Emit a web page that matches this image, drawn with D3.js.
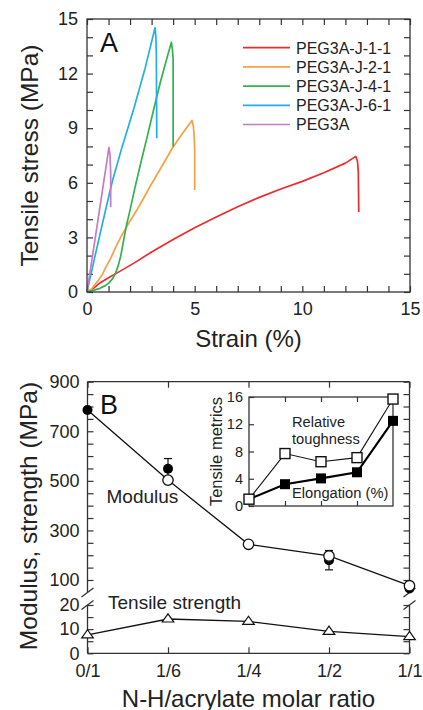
<!DOCTYPE html>
<html><head><meta charset="utf-8">
<script src="https://cdn.jsdelivr.net/npm/d3@7"></script>
<style>
body{margin:0;background:#fff;}
svg{display:block;font-family:"Liberation Sans",Arial,Helvetica,sans-serif;}
</style></head><body>
<svg id="chart" width="423" height="710"></svg>
<script>
// ---------- Panel A: stress–strain curves ([strain %, stress MPa]) ----------
const curveNames = ["PEG3A-J-1-1", "PEG3A-J-2-1", "PEG3A-J-4-1", "PEG3A-J-6-1", "PEG3A"];
const curveColors = ["#ee2b2e", "#f7a044", "#33b24e", "#22aee6", "#c57cc4"];
const curveJ11 = [[0,0],[0.3,0.2],[0.6,0.5],[1.0,0.78],[1.5,1.12],[2.2,1.6],[3,2.2],[4,2.88],[5,3.53],[6,4.12],[7,4.68],[8,5.2],[9,5.66],[10,6.08],[11,6.55],[12,7.08],[12.48,7.45],[12.56,7.2],[12.6,6.6],[12.62,4.4]];
const curveJ21 = [[0,0],[0.1,0.08],[0.2,0.15],[0.3,0.3],[0.48,0.57],[0.71,0.95],[0.87,1.35],[1.1,1.85],[1.33,2.45],[1.56,3.0],[1.87,3.65],[2.34,4.55],[2.7,5.3],[3.0,5.95],[3.5,6.95],[3.96,7.9],[4.4,8.65],[4.88,9.43],[4.94,9.1],[4.98,8.5],[5.0,7.8],[5.0,5.6]];
const curveJ41 = [[0,0],[0.15,0.05],[0.33,0.1],[0.6,0.2],[0.85,0.35],[1.02,0.5],[1.2,0.75],[1.33,1.05],[1.45,1.45],[1.56,1.95],[1.65,2.5],[1.74,3.1],[1.85,3.75],[1.97,4.35],[2.1,5.05],[2.26,5.9],[2.5,7.1],[2.8,8.55],[3.11,10.1],[3.4,11.5],[3.7,12.8],[3.92,13.72],[3.97,13.3],[4.0,12.8],[4.0,7.98]];
const curveJ61 = [[0,0],[0.3,1.6],[0.6,3.15],[0.9,4.7],[1.18,6.1],[1.6,7.85],[2.18,10.1],[2.7,12.3],[3.16,14.52],[3.2,14.0],[3.22,13.0],[3.24,8.45]];
const curvePEG3A = [[0,0],[0.4,3.1],[0.79,6.15],[1.02,7.95],[1.07,7.5],[1.1,6.5],[1.1,4.65]];
const curves = [curveJ11, curveJ21, curveJ41, curveJ61, curvePEG3A];
const strainTicks = [0, 5, 10, 15];
const stressTicks = [0, 3, 6, 9, 12, 15];

// ---------- Panel B: properties vs. N-H/acrylate ratio ----------
const ratioLabels = ["0/1", "1/6", "1/4", "1/2", "1/1"];
const modulusLine = [786, 503, 244, 197, 77];      // connecting line (MPa)
const modulusOpen = [null, 503, 244, 197, 77];     // open circles
const modulusFilled = [786, 549, null, 180, 66];   // filled circles
const modulusErr = [0, 41, null, 39, 0];
const tensileStrength = [7.6, 14.2, 13.2, 9.1, 6.9];
const modulusTicks = [100, 300, 500, 700, 900];
const strengthTicks = [0, 10, 20];
// inset
const relToughness = [1.0, 7.7, 6.5, 7.1, 15.7];
const elongation = [1.0, 3.2, 4.05, 4.95, 12.5];
const insetTicks = [0, 4, 8, 12, 16];

const svg = d3.select("#chart");
const FONT_TICK = 18;
const ink = "#222";
const frame = "#333";

function styleAxis(g, fontSize) {
  g.select(".domain").remove();
  g.attr("font-family", null).attr("font-size", fontSize);
  g.selectAll(".tick line").attr("stroke", frame).attr("stroke-width", 1.2);
  g.selectAll(".tick text").attr("fill", ink).attr("font-size", fontSize);
}

// ================= Panel A =================
const xA = d3.scaleLinear([0, 15], [87, 410]);
const yA = d3.scaleLinear([0, 15], [292, 19]);
const gA = svg.append("g");

gA.append("g").attr("transform", "translate(0,292)")
  .call(d3.axisBottom(xA).tickValues(d3.range(0, 16)).tickSizeInner(-6).tickSizeOuter(0).tickPadding(10)
    .tickFormat(d => strainTicks.includes(d) ? d : ""))
  .call(g => styleAxis(g, FONT_TICK));
gA.append("g").attr("transform", "translate(0,19)")
  .call(d3.axisTop(xA).tickValues(d3.range(0, 16)).tickSizeInner(-6).tickSizeOuter(0).tickFormat(""))
  .call(g => styleAxis(g, FONT_TICK));
gA.append("g").attr("transform", "translate(87,0)")
  .call(d3.axisLeft(yA).tickValues(d3.range(0, 16)).tickSizeInner(-6).tickSizeOuter(0).tickPadding(9)
    .tickFormat(d => stressTicks.includes(d) ? d : ""))
  .call(g => styleAxis(g, FONT_TICK));
gA.append("g").attr("transform", "translate(410,0)")
  .call(d3.axisRight(yA).tickValues(d3.range(0, 16)).tickSizeInner(-6).tickSizeOuter(0).tickFormat(""))
  .call(g => styleAxis(g, FONT_TICK));

const lineA = d3.line().x(d => xA(d[0])).y(d => yA(d[1]));
gA.selectAll("path.curve").data(curves).join("path")
  .attr("class", "curve").attr("d", lineA).attr("fill", "none")
  .attr("stroke", (d, i) => curveColors[i]).attr("stroke-width", 1.7)
  .attr("stroke-linejoin", "round");

gA.append("rect").attr("x", 87).attr("y", 19).attr("width", 323).attr("height", 273)
  .attr("fill", "none").attr("stroke", frame).attr("stroke-width", 1.3);

// legend
const legA = gA.append("g").attr("transform", "translate(243,47.7)");
curveNames.forEach((name, i) => {
  const row = legA.append("g").attr("transform", `translate(0,${i * 19.2})`);
  row.append("line").attr("x1", 0).attr("x2", 47).attr("stroke", curveColors[i]).attr("stroke-width", 1.7);
  row.append("text").attr("x", 53).attr("y", 5.8).attr("font-size", 16).attr("fill", ink).text(name);
});

gA.append("text").attr("x", 100).attr("y", 51.5).attr("font-size", 27).attr("fill", "#111").text("A");
gA.append("text").attr("x", 248.5).attr("y", 346.5).attr("text-anchor", "middle")
  .attr("font-size", 24).attr("fill", ink).text("Strain (%)");
gA.append("text").attr("transform", "translate(37.5,155.5) rotate(-90)").attr("text-anchor", "middle")
  .attr("font-size", 24.5).attr("fill", ink).text("Tensile stress (MPa)");

// ================= Panel B =================
const xB = d3.scalePoint(ratioLabels, [87.5, 409.5]);
const yTop = d3.scaleLinear([100, 900], [580, 381.7]);
const yLow = d3.scaleLinear([0, 20], [653.3, 605]);
const topEnd = 592.5;    // lower end of the modulus segment (px)
const lowStart = 605;    // upper end of the strength segment (px)
const gB = svg.append("g");

// frame (broken left/right axes)
const frameB = gB.append("g").attr("stroke", frame).attr("stroke-width", 1.3).attr("fill", "none");
frameB.append("line").attr("x1", 87.5).attr("x2", 409.5).attr("y1", 381.7).attr("y2", 381.7);
frameB.append("line").attr("x1", 87.5).attr("x2", 409.5).attr("y1", 653.3).attr("y2", 653.3);
[87.5, 409.5].forEach(x => {
  frameB.append("line").attr("x1", x).attr("x2", x).attr("y1", 381.7).attr("y2", topEnd);
  frameB.append("line").attr("x1", x).attr("x2", x).attr("y1", lowStart).attr("y2", 653.3);
  [topEnd, lowStart].forEach(y => {
    frameB.append("line").attr("x1", x - 6).attr("y1", y + 4.5).attr("x2", x + 6).attr("y2", y - 4.5);
  });
});

gB.append("g").attr("transform", "translate(0,653.3)")
  .call(d3.axisBottom(xB).tickSizeInner(-6).tickSizeOuter(0).tickPadding(11))
  .call(g => styleAxis(g, FONT_TICK));
gB.append("g").attr("transform", "translate(0,381.7)")
  .call(d3.axisTop(xB).tickSizeInner(-6).tickSizeOuter(0).tickFormat(""))
  .call(g => styleAxis(g, FONT_TICK));
gB.append("g").attr("transform", "translate(87.5,0)")
  .call(d3.axisLeft(yTop).tickValues(d3.range(100, 901, 50)).tickSizeInner(-6).tickSizeOuter(0).tickPadding(8)
    .tickFormat(d => modulusTicks.includes(d) ? d : ""))
  .call(g => styleAxis(g, FONT_TICK));
gB.append("g").attr("transform", "translate(87.5,0)")
  .call(d3.axisLeft(yLow).tickValues(d3.range(0, 21, 5)).tickSizeInner(-6).tickSizeOuter(0).tickPadding(8)
    .tickFormat(d => strengthTicks.includes(d) ? d : ""))
  .call(g => styleAxis(g, FONT_TICK));
gB.append("g").attr("transform", "translate(409.5,0)")
  .call(d3.axisRight(yTop).tickValues(d3.range(100, 901, 50)).tickSizeInner(-6).tickSizeOuter(0).tickFormat(""))
  .call(g => styleAxis(g, FONT_TICK));
gB.append("g").attr("transform", "translate(409.5,0)")
  .call(d3.axisRight(yLow).tickValues(d3.range(0, 21, 5)).tickSizeInner(-6).tickSizeOuter(0).tickFormat(""))
  .call(g => styleAxis(g, FONT_TICK));

// modulus
const lineMod = d3.line().x((d, i) => xB(ratioLabels[i])).y(d => yTop(d));
gB.append("path").attr("d", lineMod(modulusLine)).attr("fill", "none").attr("stroke", "#111").attr("stroke-width", 1.3);
const errG = gB.append("g").attr("stroke", "#111").attr("stroke-width", 1.2);
modulusFilled.forEach((v, i) => {
  const e = modulusErr[i];
  if (v == null || !e) return;
  const x = xB(ratioLabels[i]);
  errG.append("line").attr("x1", x).attr("x2", x).attr("y1", yTop(v - e)).attr("y2", yTop(v + e));
  [v - e, v + e].forEach(w => errG.append("line").attr("x1", x - 4).attr("x2", x + 4).attr("y1", yTop(w)).attr("y2", yTop(w)));
});
gB.selectAll("circle.filled").data(modulusFilled.map((v, i) => [i, v]).filter(d => d[1] != null)).join("circle")
  .attr("class", "filled").attr("cx", d => xB(ratioLabels[d[0]])).attr("cy", d => yTop(d[1]))
  .attr("r", 5).attr("fill", "#000");
gB.selectAll("circle.open").data(modulusOpen.map((v, i) => [i, v]).filter(d => d[1] != null)).join("circle")
  .attr("class", "open").attr("cx", d => xB(ratioLabels[d[0]])).attr("cy", d => yTop(d[1]))
  .attr("r", 5.2).attr("fill", "#fff").attr("stroke", "#111").attr("stroke-width", 1.3);

// tensile strength
const lineStr = d3.line().x((d, i) => xB(ratioLabels[i])).y(d => yLow(d));
gB.append("path").attr("d", lineStr(tensileStrength)).attr("fill", "none").attr("stroke", "#111").attr("stroke-width", 1.3);
gB.selectAll("path.tri").data(tensileStrength).join("path").attr("class", "tri")
  .attr("transform", (d, i) => `translate(${xB(ratioLabels[i])},${yLow(d)})`)
  .attr("d", "M0,-5.2L5.8,3L-5.8,3Z").attr("fill", "#fff").attr("stroke", "#111").attr("stroke-width", 1.2);

gB.append("text").attr("x", 106.5).attr("y", 503.3).attr("font-size", 19).attr("fill", ink).text("Modulus");
gB.append("text").attr("x", 108).attr("y", 608.5).attr("font-size", 19).attr("fill", ink).text("Tensile strength");
gB.append("text").attr("x", 100).attr("y", 413.5).attr("font-size", 27).attr("fill", "#111").text("B");
gB.append("text").attr("x", 248.5).attr("y", 706.5).attr("text-anchor", "middle")
  .attr("font-size", 24).attr("fill", ink).text("N-H/acrylate molar ratio");
gB.append("text").attr("transform", "translate(36.5,516) rotate(-90)").attr("text-anchor", "middle")
  .attr("font-size", 24.5).attr("fill", ink).text("Modulus, strength (MPa)");

// ---------- inset ----------
const xI = d3.scaleLinear([0, 4], [249, 393]);
const yI = d3.scaleLinear([0, 16], [506, 397]);
const gI = svg.append("g");
gI.append("rect").attr("x", 249).attr("y", 397).attr("width", 144).attr("height", 109)
  .attr("fill", "#fff").attr("stroke", frame).attr("stroke-width", 1.3);
gI.append("g").attr("transform", "translate(249,0)")
  .call(d3.axisLeft(yI).tickValues(insetTicks).tickSizeInner(-5).tickSizeOuter(0).tickPadding(6))
  .call(g => styleAxis(g, 14.5));
gI.append("g").attr("transform", "translate(0,506)")
  .call(d3.axisBottom(xI).tickValues([1, 2, 3]).tickSizeInner(-5).tickSizeOuter(0).tickFormat(""))
  .call(g => styleAxis(g, 14.5));
gI.append("g").attr("transform", "translate(0,397)")
  .call(d3.axisTop(xI).tickValues([1, 2, 3]).tickSizeInner(-5).tickSizeOuter(0).tickFormat(""))
  .call(g => styleAxis(g, 14.5));

const lineI = d3.line().x((d, i) => xI(i)).y(d => yI(d));
gI.append("path").attr("d", lineI(relToughness)).attr("fill", "none").attr("stroke", "#111").attr("stroke-width", 1.1);
gI.append("path").attr("d", lineI(elongation)).attr("fill", "none").attr("stroke", "#000").attr("stroke-width", 2.2);
gI.selectAll("rect.fsq").data(elongation).join("rect").attr("class", "fsq")
  .attr("x", (d, i) => xI(i) - 5).attr("y", d => yI(d) - 5).attr("width", 10).attr("height", 10).attr("fill", "#000");
gI.selectAll("rect.osq").data(relToughness).join("rect").attr("class", "osq")
  .attr("x", (d, i) => xI(i) - 5).attr("y", d => yI(d) - 5).attr("width", 10).attr("height", 10)
  .attr("fill", "#fff").attr("stroke", "#111").attr("stroke-width", 1.4);

gI.append("text").attr("x", 292).attr("y", 426.7).attr("font-size", 14.7).attr("fill", ink).text("Relative");
gI.append("text").attr("x", 292).attr("y", 444).attr("font-size", 14.7).attr("fill", ink).text("toughness");
gI.append("text").attr("x", 292).attr("y", 498.3).attr("font-size", 14.7).attr("fill", ink).text("Elongation (%)");
gI.append("text").attr("transform", "translate(221.5,451.5) rotate(-90)").attr("text-anchor", "middle")
  .attr("font-size", 16.5).attr("fill", ink).text("Tensile metrics");
</script>
</body></html>
